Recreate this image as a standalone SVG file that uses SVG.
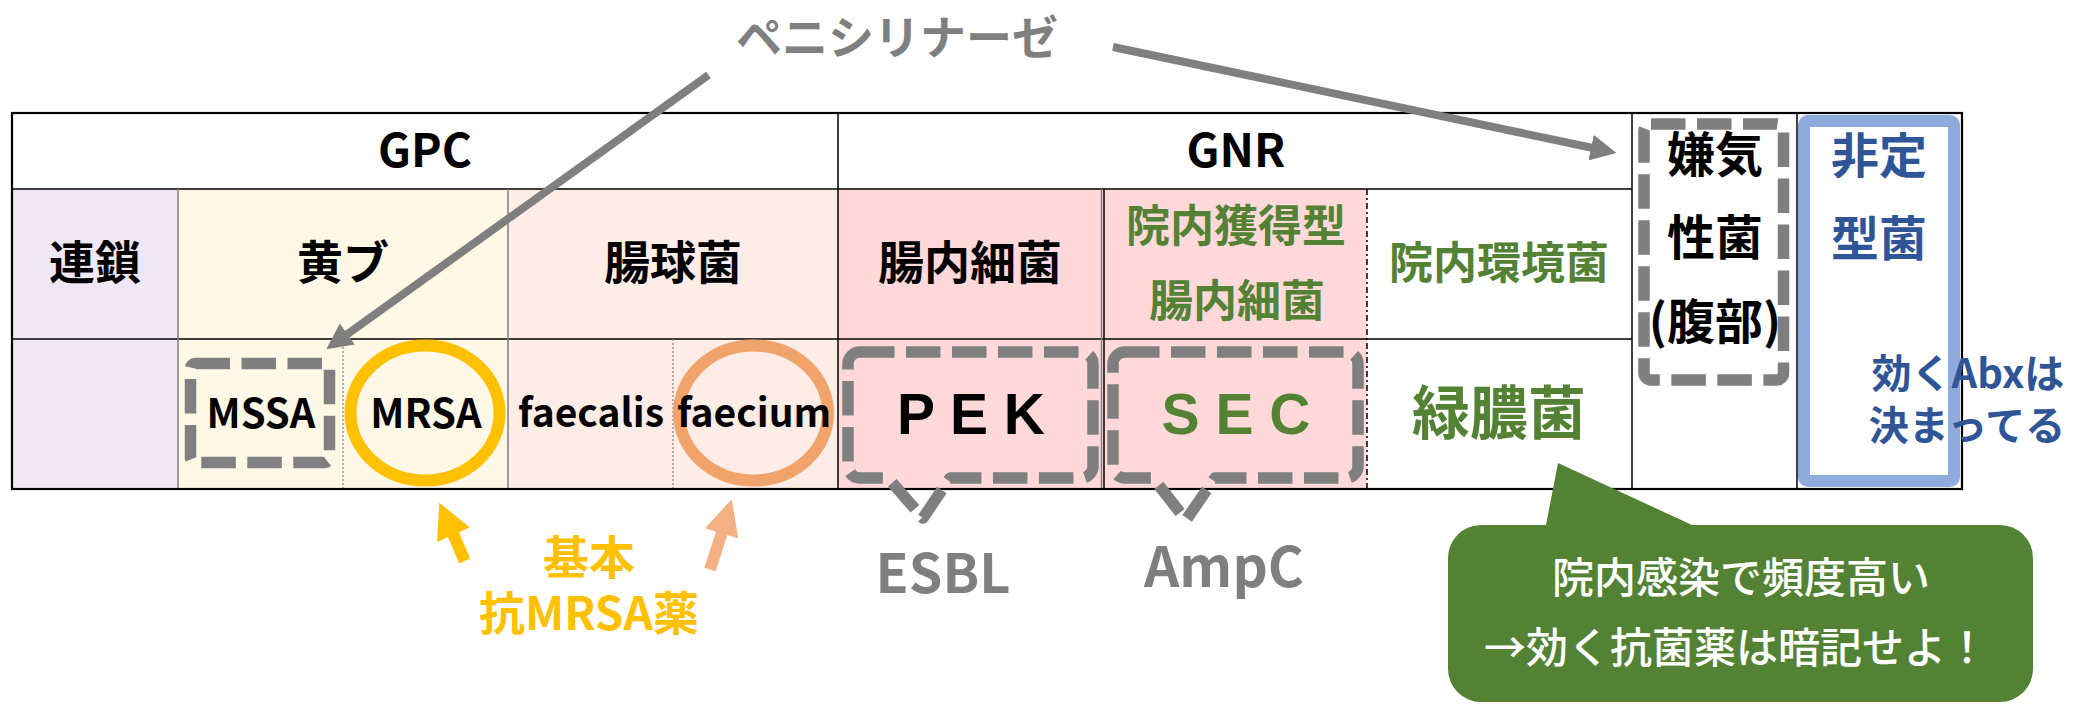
<svg xmlns="http://www.w3.org/2000/svg" width="2074" height="707" viewBox="0 0 2074 707">
<style>
text{font-family:"Noto Sans CJK JP","Noto Sans",sans-serif;text-anchor:middle}
.b{font-weight:700;fill:#000}
.hd{font-size:46px}
.g{fill:#548235}
.bl{fill:#2F5597}
.gray{fill:#7F7F7F;font-weight:700}
.lat{font-family:"Liberation Sans",Arial,sans-serif;font-weight:700;font-size:57px}
.row{stroke:#000;stroke-width:1.5}
.col{stroke:#7F7F7F;stroke-width:1.5}
.colk{stroke:#000;stroke-width:1.5}
.dot{stroke:#8A8A8A;stroke-width:1.3;stroke-dasharray:2 2}
.dd{fill:none;stroke:#7F7F7F;stroke-width:11.5;stroke-dasharray:34.5 11.5;stroke-linejoin:round}
.ar{stroke:#7F7F7F;stroke-width:8;fill:none}
</style>
<defs>
<marker id="ah" markerUnits="userSpaceOnUse" markerWidth="26" markerHeight="26" viewBox="0 0 26 26" refX="2" refY="13" orient="auto">
<path d="M0,0 L26,13 L0,26 Z" fill="#7F7F7F"/>
</marker>
</defs>
<rect width="2074" height="707" fill="#fff"/>

<g id="table">
<rect x="12" y="189" width="166" height="300" fill="#F0E7F6"/>
<rect x="178" y="189" width="330" height="300" fill="#FFF8E7"/>
<rect x="508" y="189" width="330" height="300" fill="#FDEDE6"/>
<rect x="838" y="189" width="529" height="300" fill="#FFD9D9"/>
<line class="row" x1="12" y1="189" x2="1632" y2="189"/>
<line class="row" x1="12" y1="339" x2="1632" y2="339"/>
<line class="col" x1="178" y1="189" x2="178" y2="489"/>
<line class="col" x1="508" y1="189" x2="508" y2="489"/>
<line class="dot" x1="343" y1="339" x2="343" y2="489"/>
<line class="dot" x1="673" y1="339" x2="673" y2="489"/>
<line class="colk" x1="838" y1="113" x2="838" y2="489"/>
<line class="col" x1="1101.5" y1="189" x2="1101.5" y2="489"/>
<line class="colk" x1="1104" y1="189" x2="1104" y2="489"/>
<line stroke="#000" stroke-width="1.5" stroke-dasharray="6 3 2 3" x1="1367" y1="189" x2="1367" y2="489"/>
<line class="colk" x1="1632" y1="113" x2="1632" y2="489"/>
<line class="colk" x1="1797" y1="113" x2="1797" y2="489"/>
<rect x="12" y="113" width="1950" height="376" fill="none" stroke="#000" stroke-width="2.2"/>
</g>

<g id="gpc"><text class="b hd" x="425" y="167">GPC</text></g>
<g id="gnr"><text class="b hd" x="1236" y="167">GNR</text></g>
<g id="rensa"><text class="b hd" x="95" y="279">連鎖</text></g>
<g id="obu"><text class="b hd" x="343" y="279">黄ブ</text></g>
<g id="chokyukin"><text class="b hd" x="673" y="279">腸球菌</text></g>
<g id="chonai"><text class="b hd" x="970" y="279">腸内細菌</text></g>
<g id="innai-kakutoku"><text class="g" font-weight="700" font-size="44" x="1236" y="242">院内獲得型</text><text class="g" font-weight="700" font-size="44" x="1237" y="317">腸内細菌</text></g>
<g id="innai-kankyo"><text class="g" font-weight="700" font-size="44" x="1499" y="279">院内環境菌</text></g>

<g id="mssa">
<rect class="dd" x="190.5" y="363.5" width="139" height="99" rx="5"/>
<text class="b" font-size="40" x="261" y="428">MSSA</text>
</g>
<g id="mrsa">
<ellipse cx="425" cy="413" rx="74.5" ry="67.5" fill="none" stroke="#FFC000" stroke-width="12"/>
<text class="b" font-size="40" x="426" y="428">MRSA</text>
</g>
<g id="faecalis"><text class="b" font-size="39" x="591" y="427">faecalis</text></g>
<g id="faecium">
<ellipse cx="753.5" cy="413" rx="74.5" ry="67.5" fill="none" stroke="#F1A36C" stroke-width="12"/>
<text class="b" font-size="39" x="754" y="427">faecium</text>
</g>
<g id="pek">
<path class="dd" d="M860,352 L1081,352 A12,12 0 0 1 1093,364 L1093,466 A12,12 0 0 1 1081,478 L950,478 L923,518 L888,478 L860,478 A12,12 0 0 1 848,466 L848,364 A12,12 0 0 1 860,352 Z"/>
<text class="lat" x="971" y="434" fill="#000">P E K</text>
</g>
<g id="sec">
<path class="dd" d="M1125,352 L1346,352 A12,12 0 0 1 1358,364 L1358,466 A12,12 0 0 1 1346,478 L1215,478 L1186,520 L1153,478 L1125,478 A12,12 0 0 1 1113,466 L1113,364 A12,12 0 0 1 1125,352 Z"/>
<text class="lat" x="1236" y="434" fill="#548235">S E C</text>
</g>
<g id="ryokunokin"><text class="g" font-weight="700" font-size="58" x="1499" y="434">緑膿菌</text></g>

<g id="anaerobe">
<rect class="dd" x="1644" y="124" width="139.5" height="256" rx="7"/>
<text class="b" font-size="48" x="1715" y="172">嫌気</text>
<text class="b" font-size="48" x="1715" y="255">性菌</text>
<text class="b" font-size="48" x="1715" y="339">(腹部)</text>
</g>
<g id="atypical">
<rect x="1804" y="121" width="150" height="360" rx="4" fill="none" stroke="#8FAADC" stroke-width="12"/>
<text class="bl" font-weight="700" font-size="48" x="1879" y="173">非定</text>
<text class="bl" font-weight="700" font-size="48" x="1879" y="256">型菌</text>
<text class="bl" font-weight="700" font-size="40"><tspan x="1968" y="388">効くAbxは</tspan><tspan x="1967" y="440">決まってる</tspan></text>
</g>

<g id="penicillinase"><text class="gray" font-size="46" x="897" y="54">ペニシリナーゼ</text></g>
<g id="esbl"><text class="gray" font-size="54" x="943" y="593">ESBL</text></g>
<g id="ampc"><text class="gray" font-size="55" x="1224" y="587">AmpC</text></g>
<g id="kihon">
<text font-weight="700" font-size="46" fill="#FFC000"><tspan x="589" y="574">基本</tspan><tspan x="589" y="630">抗MRSA薬</tspan></text>
</g>
<g id="bubble">
<path d="M1481,525 L1546,525 L1558,463 L1692,525 L2000,525 A33,33 0 0 1 2033,558 L2033,669 A33,33 0 0 1 2000,702 L1481,702 A33,33 0 0 1 1448,669 L1448,558 A33,33 0 0 1 1481,525 Z" fill="#548235"/>
<text font-weight="500" font-size="42" fill="#fff" x="1741" y="593">院内感染で頻度高い</text>
<text font-weight="500" font-size="42" fill="#fff" x="1736" y="663">→効く抗菌薬は暗記せよ！</text>
</g>

<g id="connectors">
<line class="ar" x1="708.5" y1="75" x2="345.8" y2="335.2" marker-end="url(#ah)"/>
<line class="ar" x1="1113" y1="47" x2="1593" y2="148" marker-end="url(#ah)"/>
<polygon fill="#FFC000" points="439.3,502.7 469.9,527.4 459,532.3 470.2,558.6 459.2,563.4 448,537.1 437.1,542"/>
<polygon fill="#F4B183" points="731.7,499.3 738.3,538.4 727.4,535.1 715.7,571.3 704.3,567.7 716,531.5 705.1,528.2"/>
</g>
</svg>
